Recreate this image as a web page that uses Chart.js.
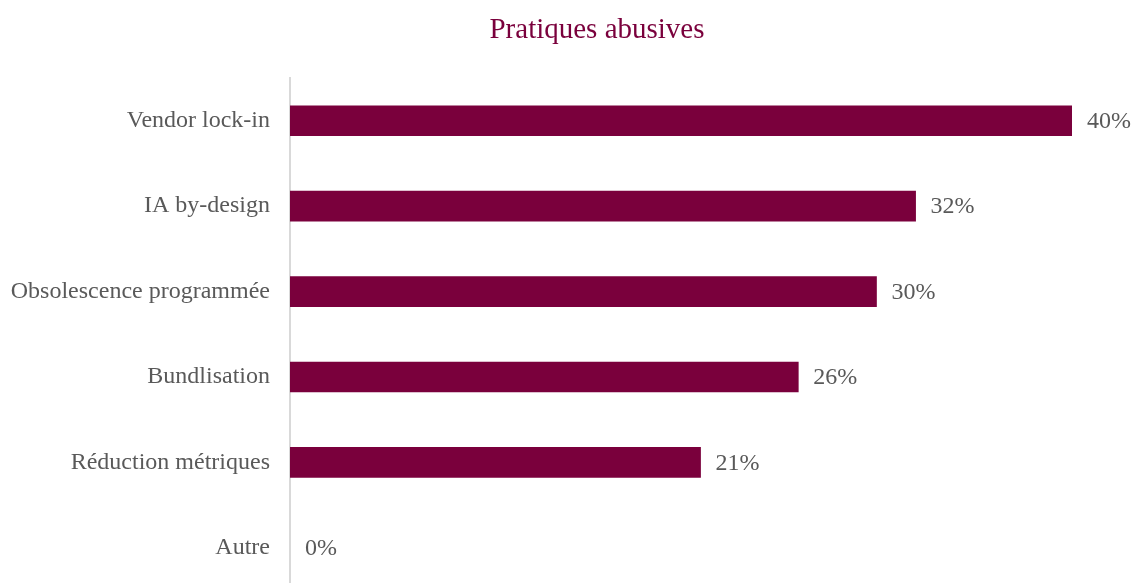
<!DOCTYPE html>
<html>
<head>
<meta charset="utf-8">
<script src="https://cdn.jsdelivr.net/npm/chart.js@4/dist/chart.umd.min.js"></script>
<style>
  html, body { margin: 0; padding: 0; background: #ffffff; overflow: hidden; }
</style>
</head>
<body>
<canvas id="chart" width="1135" height="625"></canvas>
<script>
// Categories and shares (%)
const categories = [
    'Vendor lock-in',
    'IA by-design',
    'Obsolescence programmée',
    'Bundlisation',
    'Réduction métriques',
    'Autre'
];
const shares = [40, 32, 30, 26, 21, 0];
const chartTitle = 'Pratiques abusives';

const wine = '#7a003c';
const textGrey = '#595959';
const serif = '"Liberation Serif", "Times New Roman", serif';

// Title sits centred a little right of the canvas middle, so it is drawn by hand
const titleText = {
    id: 'titleText',
    afterDraw(chart) {
        const ctx = chart.ctx;
        ctx.save();
        ctx.font = '29px ' + serif;
        ctx.fillStyle = wine;
        ctx.textAlign = 'center';
        ctx.textBaseline = 'middle';
        ctx.fillText(chartTitle, 597, 30);
        ctx.restore();
    }
};

// Draws "NN%" just right of each bar end
const valueLabels = {
    id: 'valueLabels',
    afterDatasetsDraw(chart) {
        const ctx = chart.ctx;
        const meta = chart.getDatasetMeta(0);
        ctx.save();
        ctx.font = '24px ' + serif;
        ctx.fillStyle = textGrey;
        ctx.textAlign = 'left';
        ctx.textBaseline = 'middle';
        meta.data.forEach((bar, i) => {
            ctx.fillText(shares[i] + '%', bar.x + 15, bar.y + 1);
        });
        ctx.restore();
    }
};

new Chart(document.getElementById('chart'), {
    type: 'bar',
    data: {
        labels: categories,
        datasets: [{
            data: shares,
            // a zero share leaves no sliver on the axis
            backgroundColor: (c) => c.raw === 0 ? 'rgba(0,0,0,0)' : wine,
            borderWidth: 0,
            barThickness: 30
        }]
    },
    options: {
        indexAxis: 'y',
        responsive: false,
        animation: false,
        layout: {
            padding: { left: 0, right: 63, top: 78, bottom: 0 }
        },
        plugins: {
            legend: { display: false },
            tooltip: { enabled: false },
            title: { display: false }
        },
        scales: {
            x: {
                display: false,
                min: 0,
                max: 40
            },
            y: {
                grid: { display: false, drawTicks: false },
                border: { display: true, color: '#d9d9d9', width: 2 },
                ticks: {
                    color: textGrey,
                    font: { family: serif, size: 24 },
                    padding: 20,
                    autoSkip: false
                },
                afterFit(scale) {
                    scale.width = 290;
                }
            }
        }
    },
    plugins: [valueLabels, titleText]
});
</script>
</body>
</html>
